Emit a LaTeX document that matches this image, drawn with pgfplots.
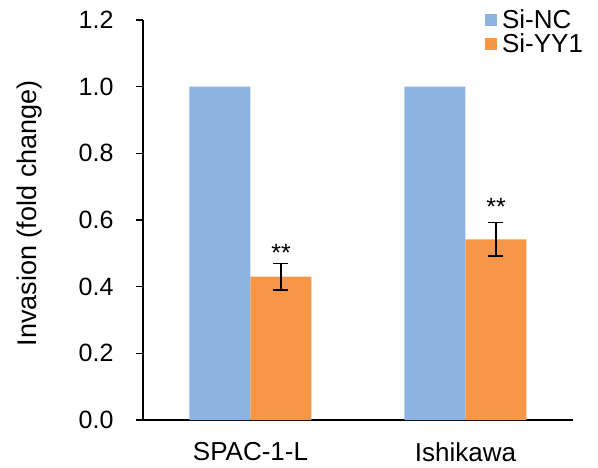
\documentclass[border=0pt]{standalone}
\usepackage{fontspec}
\setmainfont{Liberation Sans}
\usepackage{pgfplots}
\pgfplotsset{compat=1.18}
\definecolor{cblue}{HTML}{8DB3E2}
\definecolor{corange}{HTML}{F79646}
\newcommand{\fs}{\fontsize{25}{29}\selectfont}
\newcommand{\fx}{\fontsize{26}{30}\selectfont}
\newcommand{\fy}{\fontsize{27}{31}\selectfont}
\begin{document}
\begin{tikzpicture}
\path[use as bounding box] (-143pt,-47pt) rectangle (455pt,420pt);
\begin{axis}[
  at={(0pt,0pt)}, anchor=south west,
  scale only axis, width=430pt, height=400pt,
  xmin=-0.5, xmax=1.5, ymin=0, ymax=1.2,
  axis x line*=bottom, axis y line*=left,
  axis line style={line width=1.5pt, -},
  every tick/.style={line width=1.5pt, black},
  tick align=outside, major tick length=7pt, minor tick length=7pt,
  ytick={0,0.2,...,1.2},
  xtick={0,1}, xticklabels={SPAC-1-L,Ishikawa},
  x tick style={draw=none},
  minor xtick={-0.5,0.5,1.5},
  /pgf/number format/.cd, fixed, fixed zerofill, precision=1, assume math mode=true, /pgfplots/.cd,
  yticklabel style={font=\fs, xshift=-19pt},
  xticklabel style={font=\fx, yshift=-12pt},
  ylabel={Invasion (fold change)},
  ylabel style={font=\fy, at={(axis description cs:-0.263,0.517)}, anchor=center},
  ybar, bar width=61pt,
  legend style={draw=none, fill=none, font=\fx, at={(rel axis cs:0.795,1.028)}, anchor=north west,
    inner sep=0pt, row sep=1pt, nodes={inner sep=1pt, anchor=west},
    /tikz/every odd column/.append style={column sep=4pt}},
  legend image code/.code={\fill[#1] (0pt,-6pt) rectangle (12pt,6pt);},
  legend cell align=left,
]
\addplot[fill=cblue, draw=none, bar shift=-30.5pt] coordinates {(0,1.0) (1,1.0)};
\addplot[fill=corange, draw=none, bar shift=30.5pt,
  error bars/.cd, y dir=both, y explicit,
  error bar style={line width=1.5pt, black},
  error mark options={rotate=90, mark size=7.5pt, line width=1.5pt, black}]
  coordinates {(0,0.43) +- (0,0.04) (1,0.542) +- (0,0.05)};
\legend{Si-NC,Si-YY1}
\addplot[ybar=0pt, draw=none, fill=none, bar width=0pt, bar shift=0pt, forget plot,
  nodes near coords={**}, point meta=explicit symbolic,
  nodes near coords style={font=\fs, anchor=base, yshift=0pt}]
  coordinates {(0.1419,0.477) [**] (1.1419,0.615) [**]};
\end{axis}
\end{tikzpicture}
\end{document}
